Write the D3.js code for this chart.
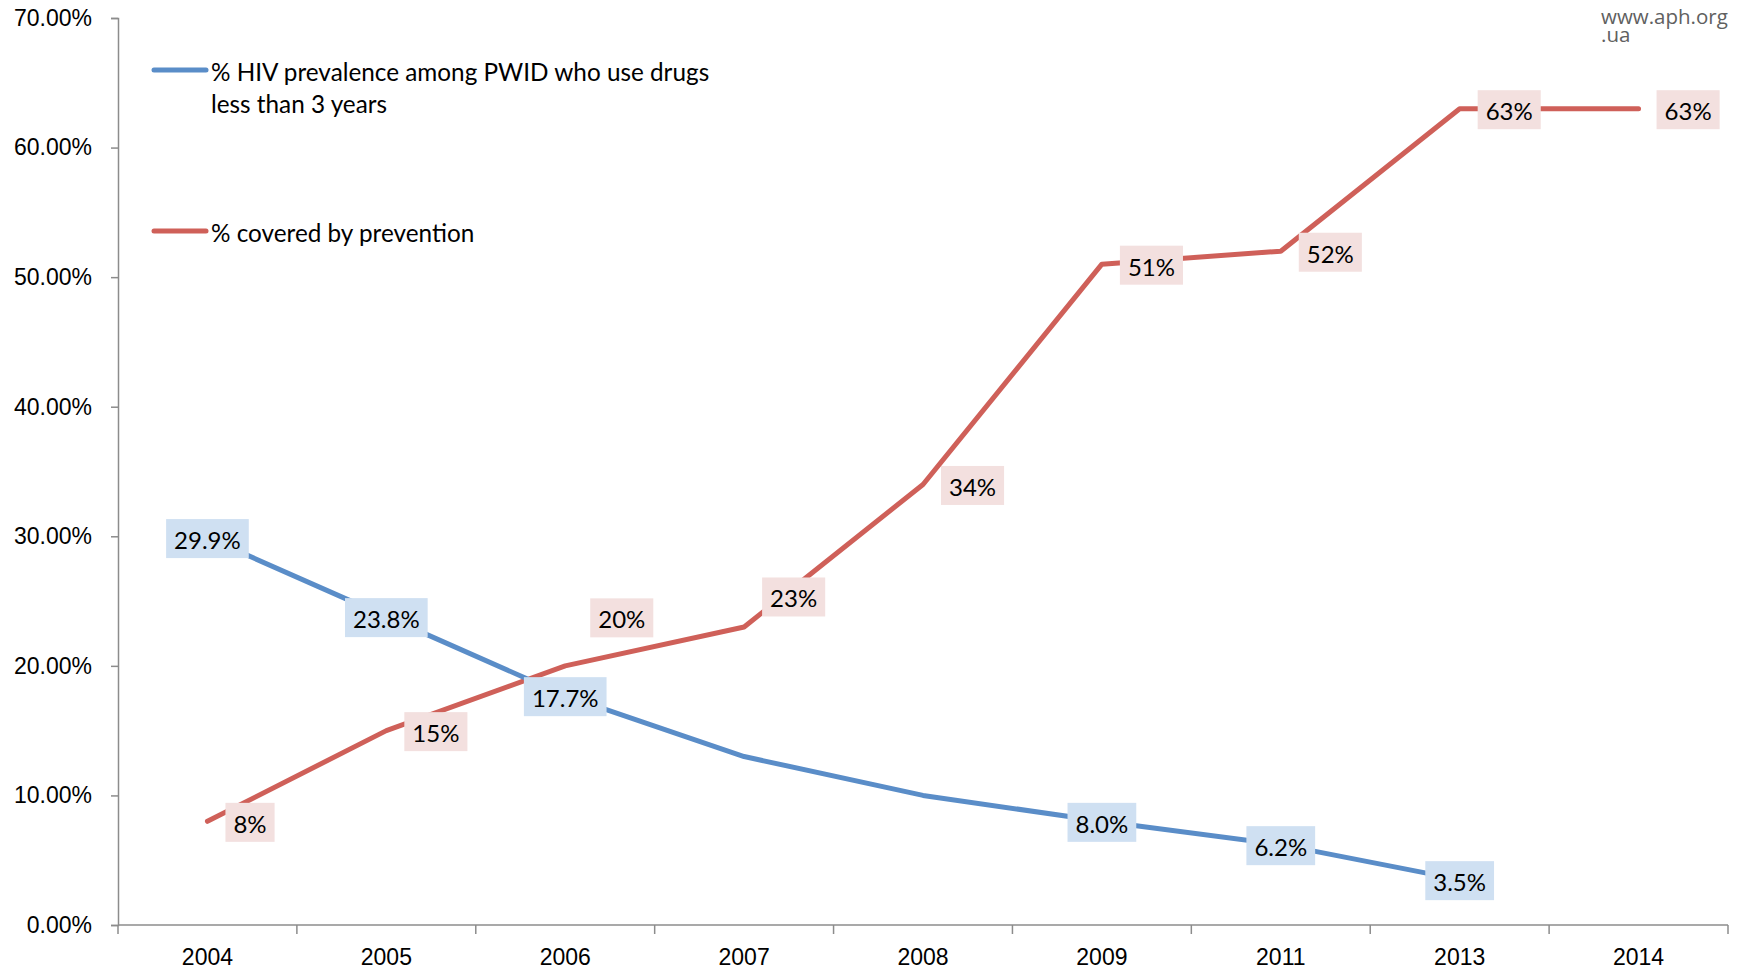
<!DOCTYPE html>
<html>
<head>
<meta charset="utf-8">
<script src="https://cdn.jsdelivr.net/npm/d3@7"></script>
<style>
  html, body { margin: 0; padding: 0; background: #fff; }
  svg { display: block; }
</style>
</head>
<body>
<svg id="chart" width="1743" height="971"></svg>
<script>
// Survey years (categorical axis; 2010 and 2012 are not surveyed)
const years = ["2004", "2005", "2006", "2007", "2008", "2009", "2011", "2013", "2014"];

// % HIV prevalence among PWID who use drugs less than 3 years
const hivPrevalence = [29.9, 23.8, 17.7, 13.0, 10.0, 8.0, 6.2, 3.5, null];
// Labels shown on the prevalence line (null = unlabeled point)
const hivLabels = ["29.9%", "23.8%", "17.7%", null, null, "8.0%", "6.2%", "3.5%", null];

// % covered by prevention
const coverage = [8, 15, 20, 23, 34, 51, 52, 63, 63];
const coverageLabels = ["8%", "15%", "20%", "23%", "34%", "51%", "52%", "63%", "63%"];

const yTicks = [0, 10, 20, 30, 40, 50, 60, 70];

const seriesNames = [
  ["% HIV prevalence among PWID who use drugs", "less than 3 years"],
  ["% covered by prevention"]
];

const sourceLines = ["www.aph.org", ".ua"];

const BLUE = "#5A8DC8", RED = "#CF6059";
const BLUE_BG = "#CFE0F2", RED_BG = "#F3E0DF";
const AXIS = "#8C8C8C";
const LABEL_FONT = "Lato, 'Open Sans', sans-serif";
const TICK_FONT = "'Liberation Sans', Arial, sans-serif";

const svg = d3.select("#chart");
const plotLeft = 118, plotRight = 1728, plotTop = 18, plotBottom = 925;

const x = d3.scaleBand().domain(years).range([plotLeft, plotRight]).padding(0);
const y = d3.scaleLinear().domain([0, 70]).range([plotBottom, plotTop]);
const cx = yr => x(yr) + x.bandwidth() / 2;

// Y axis
const yAxis = svg.append("g")
  .attr("transform", `translate(${plotLeft},0)`)
  .call(d3.axisLeft(y).tickValues(yTicks).tickSize(7).tickPadding(19)
    .tickFormat(d => d.toFixed(2) + "%"));
yAxis.select(".domain").attr("stroke", AXIS).attr("stroke-width", 1.5);
yAxis.selectAll(".tick line").attr("stroke", AXIS).attr("stroke-width", 1.5);
yAxis.selectAll(".tick text")
  .attr("font-family", TICK_FONT).attr("font-size", 23).attr("fill", "#000");

// X axis: labels at band centres, ticks at band boundaries
const xAxis = svg.append("g")
  .attr("transform", `translate(0,${plotBottom})`)
  .call(d3.axisBottom(x).tickSize(0).tickPadding(24));
xAxis.select(".domain").attr("stroke", AXIS).attr("stroke-width", 1.5)
  .attr("d", `M${plotLeft},0H${plotRight}`);
xAxis.selectAll(".tick text")
  .attr("font-family", TICK_FONT).attr("font-size", 23).attr("fill", "#000");
const bounds = years.map(d => x(d)).concat([plotRight]);
xAxis.selectAll(".bound").data(bounds).enter().append("line")
  .attr("x1", d => d).attr("x2", d => d).attr("y1", 0).attr("y2", 9)
  .attr("stroke", AXIS).attr("stroke-width", 1.5);

// Lines
const line = d3.line()
  .defined(d => d.v != null)
  .x(d => cx(d.yr)).y(d => y(d.v));

const hivData = years.map((yr, i) => ({ yr, v: hivPrevalence[i], label: hivLabels[i] }));
const covData = years.map((yr, i) => ({ yr, v: coverage[i], label: coverageLabels[i] }));

svg.append("path").datum(covData).attr("d", line)
  .attr("fill", "none").attr("stroke", RED).attr("stroke-width", 5)
  .attr("stroke-linejoin", "round").attr("stroke-linecap", "round");
svg.append("path").datum(hivData).attr("d", line)
  .attr("fill", "none").attr("stroke", BLUE).attr("stroke-width", 5)
  .attr("stroke-linejoin", "round").attr("stroke-linecap", "round");

// Data labels with shaded boxes
function drawLabel(g, text, px, py, bg, anchor) {
  const grp = g.append("g");
  const t = grp.append("text").text(text)
    .attr("font-family", LABEL_FONT).attr("font-size", 24)
    .attr("fill", "#000").attr("dominant-baseline", "central");
  const w = t.node().getComputedTextLength();
  const bw = w + 16, bh = 39;
  const bx = anchor === "right" ? px + 18 : px - bw / 2;
  const by = py - bh / 2;
  grp.insert("rect", "text").attr("x", bx).attr("y", by)
    .attr("width", bw).attr("height", bh).attr("fill", bg);
  t.attr("x", bx + 8).attr("y", py + 1);
}

const labels = svg.append("g");
hivData.forEach(d => {
  if (d.label && d.v != null) drawLabel(labels, d.label, cx(d.yr), y(d.v) + 1, BLUE_BG, "center");
});
// Two coverage labels sit above the line to keep clear of the prevalence labels
const covNudge = { "2006": [7, -48], "2007": [0, -30] };
covData.forEach(d => {
  const n = covNudge[d.yr] || [0, 1];
  drawLabel(labels, d.label, cx(d.yr) + n[0], y(d.v) + n[1], RED_BG, "right");
});

// Legend
const legend = svg.append("g");
const legendRows = [
  { color: BLUE, y: 70, lines: seriesNames[0] },
  { color: RED, y: 231, lines: seriesNames[1] }
];
legendRows.forEach(r => {
  legend.append("line").attr("x1", 154).attr("x2", 206).attr("y1", r.y).attr("y2", r.y)
    .attr("stroke", r.color).attr("stroke-width", 5).attr("stroke-linecap", "round");
  r.lines.forEach((s, i) => {
    legend.append("text").text(s)
      .attr("x", 211).attr("y", r.y + 1 + i * 32)
      .attr("dominant-baseline", "central")
      .attr("font-family", LABEL_FONT).attr("font-size", 24.3).attr("fill", "#000");
  });
});

// Source, set as one wrapped block
const src = svg.append("text")
  .attr("font-family", "'Open Sans', sans-serif")
  .attr("font-size", 20.5).attr("fill", "#606060");
src.selectAll("tspan").data(sourceLines).enter().append("tspan")
  .attr("x", 1601).attr("y", (d, i) => 24 + i * 18).text(d => d);
</script>
</body>
</html>
